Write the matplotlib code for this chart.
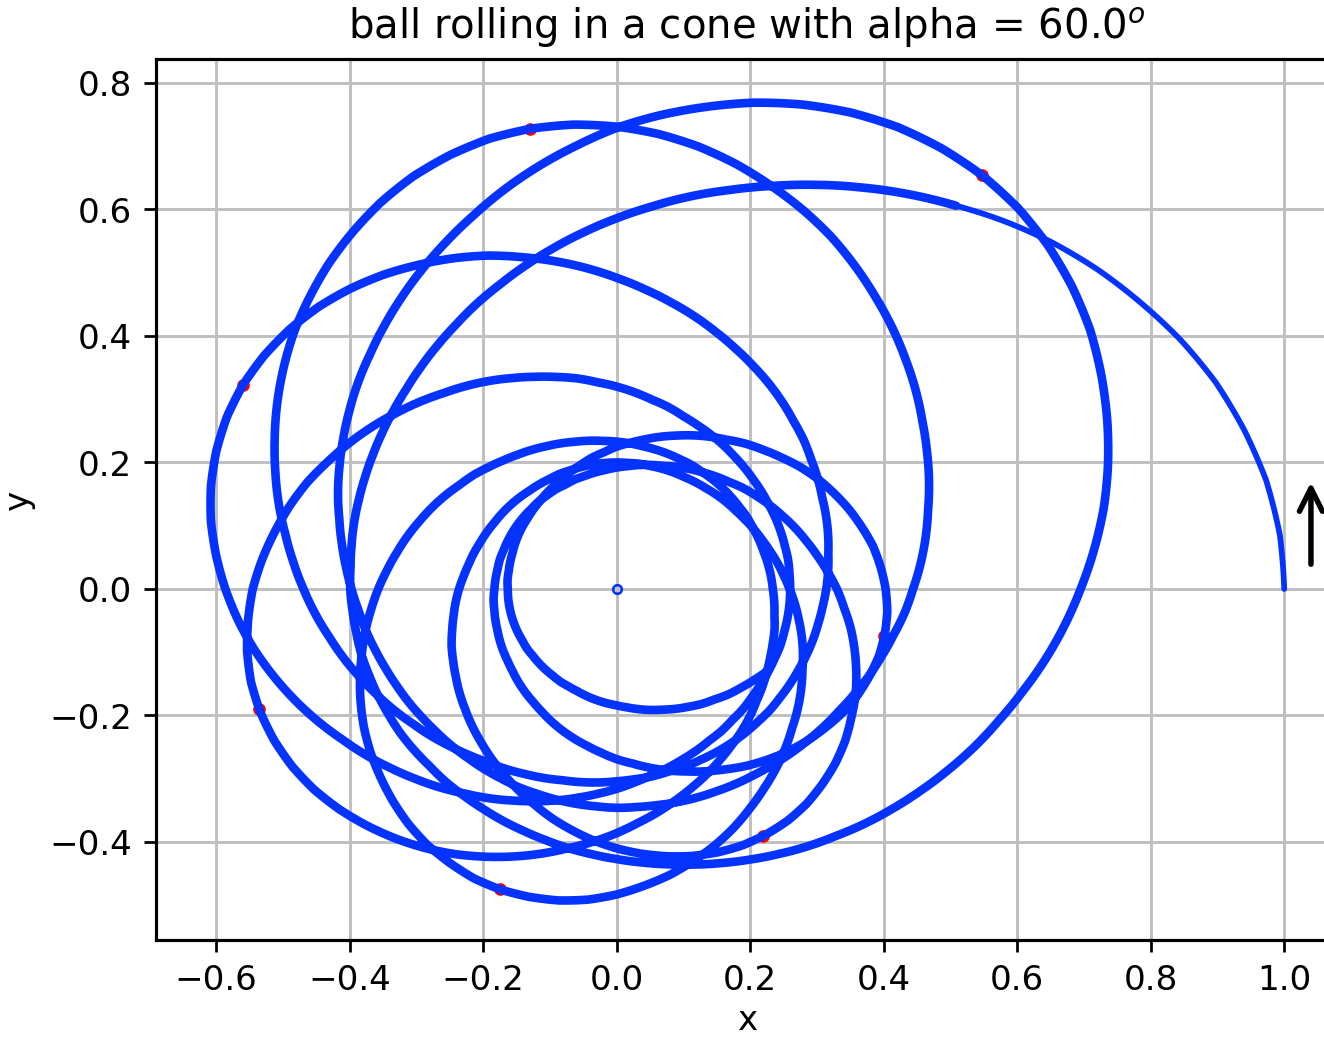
import numpy as np
import matplotlib
matplotlib.use("Agg")
import matplotlib.pyplot as plt
from matplotlib.path import Path
from matplotlib.patches import PathPatch
from matplotlib.projections.polar import PolarAxes

plt.rcParams["path.simplify"] = False
plt.rcParams["font.size"] = 11.9
plt.rcParams["axes.titlesize"] = 14
plt.rcParams["axes.labelsize"] = 11.9
plt.rcParams["xtick.labelsize"] = 11.9
plt.rcParams["ytick.labelsize"] = 11.9
plt.rcParams["xtick.major.size"] = 4.2
plt.rcParams["ytick.major.size"] = 4.2
plt.rcParams["xtick.major.pad"] = 4.2
plt.rcParams["ytick.major.pad"] = 4.2
plt.rcParams["xtick.major.width"] = 0.95
plt.rcParams["ytick.major.width"] = 0.95
plt.rcParams["axes.labelpad"] = 4.8
plt.rcParams["axes.titlepad"] = 7.1

# the path in polar form: each loop runs from one
# outer turning point to the next, radius sampled every 5 degrees of turning
turn_deg = [0, 5, 10, 15, 20, 25, 30, 35, 40, 45, 50, 55, 60, 65, 70, 75, 80,
            85, 90, 95, 100, 105, 110, 115, 120, 125, 130, 135, 140, 145, 150,
            155, 160, 165, 170, 175, 180, 185, 190, 195, 200, 205, 210, 215,
            220, 225, 230, 235, 240, 245, 250, 255, 260, 265, 270, 275, 280,
            285, 290, 295, 300, 305, 310, 315, 320, 325, 330, 335, 340, 345,
            350, 355, 360, 365, 370, 375, 380, 385, 390, 395, 400, 405]
loop_start_deg = [0, 410, 820, 1230, 1640, 2050, 2460, 2870]

loop0_r = [1.000, 0.997, 0.988, 0.973, 0.955, 0.932, 0.906, 0.880, 0.852, 0.822,
           0.791, 0.762, 0.733, 0.705, 0.678, 0.653, 0.630, 0.607, 0.586, 0.566,
           0.547, 0.529, 0.512, 0.497, 0.482, 0.469, 0.457, 0.446, 0.437, 0.429,
           0.422, 0.416, 0.411, 0.407, 0.403, 0.400, 0.399, 0.397, 0.396, 0.396,
           0.395, 0.395,
           0.395, 0.396, 0.396, 0.396, 0.398, 0.399, 0.401, 0.404, 0.407, 0.411,
           0.416, 0.421, 0.427, 0.434, 0.442, 0.451, 0.461, 0.472, 0.484, 0.497,
           0.510, 0.525, 0.540, 0.556, 0.573, 0.591, 0.609, 0.629, 0.651, 0.673,
           0.695, 0.718, 0.741, 0.762, 0.782, 0.801, 0.819, 0.833, 0.844, 0.851]
loop1_r = [0.853, 0.850, 0.843, 0.831, 0.815, 0.796, 0.774, 0.752, 0.729, 0.703,
           0.678, 0.653, 0.628, 0.605, 0.583, 0.562, 0.542, 0.523, 0.506, 0.489,
           0.473, 0.458, 0.444, 0.430, 0.418, 0.407, 0.397, 0.388, 0.381, 0.374,
           0.368, 0.363, 0.359, 0.355, 0.352, 0.350, 0.348, 0.347, 0.346, 0.346,
           0.345, 0.345,
           0.345, 0.345, 0.346, 0.346, 0.347, 0.349, 0.351, 0.353, 0.356, 0.359,
           0.363, 0.368, 0.373, 0.379, 0.385, 0.393, 0.402, 0.411, 0.421, 0.433,
           0.444, 0.457, 0.470, 0.483, 0.498, 0.513, 0.529, 0.547, 0.565, 0.584,
           0.603, 0.623, 0.643, 0.661, 0.678, 0.695, 0.710, 0.722, 0.731, 0.737]
loop2_r = [0.739, 0.737, 0.730, 0.720, 0.706, 0.689, 0.671, 0.651, 0.631, 0.609,
           0.587, 0.565, 0.544, 0.524, 0.504, 0.486, 0.469, 0.453, 0.437, 0.423,
           0.409, 0.396, 0.384, 0.372, 0.362, 0.352, 0.343, 0.335, 0.329, 0.323,
           0.318, 0.313, 0.310, 0.307, 0.304, 0.302, 0.301, 0.299, 0.299, 0.298,
           0.298, 0.298,
           0.298, 0.298, 0.299, 0.299, 0.300, 0.301, 0.303, 0.305, 0.307, 0.310,
           0.314, 0.318, 0.322, 0.328, 0.334, 0.340, 0.348, 0.356, 0.366, 0.375,
           0.386, 0.397, 0.408, 0.420, 0.433, 0.447, 0.461, 0.476, 0.492, 0.509,
           0.526, 0.543, 0.561, 0.577, 0.592, 0.607, 0.620, 0.631, 0.639, 0.644]
loop3_r = [0.646, 0.644, 0.638, 0.629, 0.617, 0.602, 0.586, 0.569, 0.551, 0.532,
           0.513, 0.494, 0.475, 0.458, 0.441, 0.425, 0.410, 0.395, 0.382, 0.369,
           0.357, 0.346, 0.335, 0.325, 0.316, 0.307, 0.299, 0.293, 0.287, 0.282,
           0.277, 0.274, 0.270, 0.268, 0.265, 0.263, 0.262, 0.261, 0.261, 0.260,
           0.260, 0.260,
           0.260, 0.260, 0.261, 0.261, 0.262, 0.263, 0.264, 0.266, 0.268, 0.271,
           0.274, 0.278, 0.282, 0.286, 0.291, 0.298, 0.304, 0.312, 0.320, 0.328,
           0.338, 0.347, 0.357, 0.368, 0.380, 0.392, 0.404, 0.418, 0.432, 0.447,
           0.462, 0.477, 0.493, 0.507, 0.520, 0.533, 0.545, 0.554, 0.562, 0.567]
loop4_r = [0.568, 0.566, 0.561, 0.553, 0.542, 0.529, 0.515, 0.500, 0.484, 0.467,
           0.450, 0.433, 0.416, 0.401, 0.386, 0.371, 0.358, 0.345, 0.333, 0.322,
           0.311, 0.301, 0.292, 0.283, 0.274, 0.267, 0.260, 0.254, 0.249, 0.245,
           0.240, 0.237, 0.234, 0.232, 0.230, 0.228, 0.227, 0.226, 0.226, 0.225,
           0.225, 0.225,
           0.225, 0.225, 0.226, 0.226, 0.227, 0.228, 0.229, 0.231, 0.233, 0.235,
           0.238, 0.241, 0.245, 0.249, 0.254, 0.259, 0.265, 0.272, 0.280, 0.287,
           0.296, 0.305, 0.314, 0.324, 0.334, 0.345, 0.357, 0.369, 0.382, 0.395,
           0.409, 0.423, 0.437, 0.450, 0.462, 0.474, 0.485, 0.494, 0.500, 0.505]
loop5_r = [0.506, 0.504, 0.500, 0.493, 0.483, 0.471, 0.459, 0.445, 0.431, 0.416,
           0.400, 0.385, 0.371, 0.357, 0.343, 0.331, 0.319, 0.307, 0.297, 0.287,
           0.277, 0.268, 0.259, 0.251, 0.244, 0.237, 0.231, 0.226, 0.221, 0.217,
           0.214, 0.211, 0.208, 0.206, 0.204, 0.203, 0.202, 0.201, 0.201, 0.200,
           0.200, 0.200,
           0.200, 0.200, 0.200, 0.201, 0.201, 0.202, 0.203, 0.205, 0.207, 0.209,
           0.211, 0.214, 0.217, 0.221, 0.225, 0.230, 0.236, 0.242, 0.248, 0.255,
           0.263, 0.270, 0.278, 0.287, 0.296, 0.306, 0.316, 0.327, 0.338, 0.350,
           0.362, 0.375, 0.387, 0.399, 0.410, 0.420, 0.429, 0.437, 0.443, 0.447]
loop6_r = [0.448, 0.447, 0.443, 0.436, 0.428, 0.418, 0.406, 0.395, 0.382, 0.369,
           0.356, 0.342, 0.330, 0.317, 0.305, 0.294, 0.284, 0.274, 0.265, 0.256,
           0.248, 0.239, 0.232, 0.225, 0.219, 0.213, 0.207, 0.203, 0.199, 0.195,
           0.192, 0.189, 0.187, 0.185, 0.184, 0.182, 0.182, 0.181, 0.181, 0.180,
           0.180, 0.180,
           0.180, 0.180, 0.180, 0.181, 0.181, 0.182, 0.183, 0.185, 0.186, 0.188,
           0.190, 0.193, 0.196, 0.199, 0.203, 0.208, 0.213, 0.218, 0.224, 0.231,
           0.238, 0.245, 0.252, 0.260, 0.269, 0.277, 0.287, 0.297, 0.307, 0.318,
           0.329, 0.341, 0.352, 0.363, 0.373, 0.382, 0.391, 0.398, 0.403, 0.407]
loop7_r = [0.408, 0.407, 0.403, 0.397, 0.390, 0.380, 0.370, 0.359, 0.348, 0.336,
           0.323, 0.311, 0.300, 0.288, 0.278, 0.268, 0.258, 0.249, 0.240, 0.232,
           0.225, 0.217, 0.211, 0.204, 0.198, 0.193, 0.188, 0.184, 0.180, 0.177,
           0.174, 0.172, 0.170, 0.168, 0.166, 0.165, 0.164, 0.164, 0.163, 0.163,
           0.163, 0.163,
           0.163, 0.163, 0.163, 0.164, 0.164, 0.165, 0.166, 0.167, 0.169, 0.170,
           0.172, 0.175, 0.178, 0.181, 0.184, 0.188, 0.193, 0.198, 0.203, 0.209,
           0.215, 0.222, 0.228, 0.236, 0.243, 0.251, 0.260]

# red marks at the outer turning points
mark_x = [0.547, -0.130, -0.560, -0.535, -0.175, 0.220, 0.400]
mark_y = [0.655, 0.727, 0.322, -0.190, -0.475, -0.390, -0.075]

loops = [loop0_r, loop1_r, loop2_r, loop3_r, loop4_r, loop5_r, loop6_r, loop7_r]
theta = []
radius = []
for start, rs in zip(loop_start_deg, loops):
    theta += [start + d for d in turn_deg[:len(rs)]]
    radius += rs
verts = np.column_stack([np.deg2rad(theta), radius])

blue = "#0433ff"

fig = plt.figure(figsize=(6.4, 5.01), dpi=207)
ax = fig.add_axes([0.1177, 0.0935, 0.892, 0.8496])
ax.set_xlim(-0.69, 1.08)
ax.set_ylim(-0.555, 0.838)

to_xy = PolarAxes.PolarTransform(apply_theta_transforms=False) + ax.transData

ax.plot(mark_x, mark_y, "o", color="red", ms=3.4, zorder=2)
# first stretch from the start is finer (sparse points there)
head = Path(verts[:11], _interpolation_steps=8)
tail = Path(verts[10:], _interpolation_steps=8)
ax.add_patch(PathPatch(head, transform=to_xy, fill=False, edgecolor=blue,
                       lw=2.0, capstyle="round", joinstyle="round", zorder=3))
ax.add_patch(PathPatch(tail, transform=to_xy, fill=False, edgecolor=blue,
                       lw=3.0, capstyle="round", joinstyle="round", zorder=3))
ax.plot([0], [0], "o", mfc="none", mec=blue, ms=3.0, mew=0.9, zorder=4)

ax.annotate("", xy=(1.04, 0.178), xytext=(1.04, 0.03),
            arrowprops=dict(arrowstyle="->", lw=1.9, color="k", mutation_scale=20))

ax.set_xticks([-0.6, -0.4, -0.2, 0.0, 0.2, 0.4, 0.6, 0.8, 1.0])
ax.set_yticks([-0.4, -0.2, 0.0, 0.2, 0.4, 0.6, 0.8])
ax.set_xlim(-0.69, 1.08)
ax.set_ylim(-0.555, 0.838)
ax.grid(True, color="#bfbfbf", lw=1.0)
for s in ax.spines.values():
    s.set_linewidth(1.1)

ax.set_xlabel("x", labelpad=2.5)
ax.set_ylabel("y")
ax.set_title("ball rolling in a cone with alpha = 60.0$^o$")

fig.savefig("out.png", dpi=207)
